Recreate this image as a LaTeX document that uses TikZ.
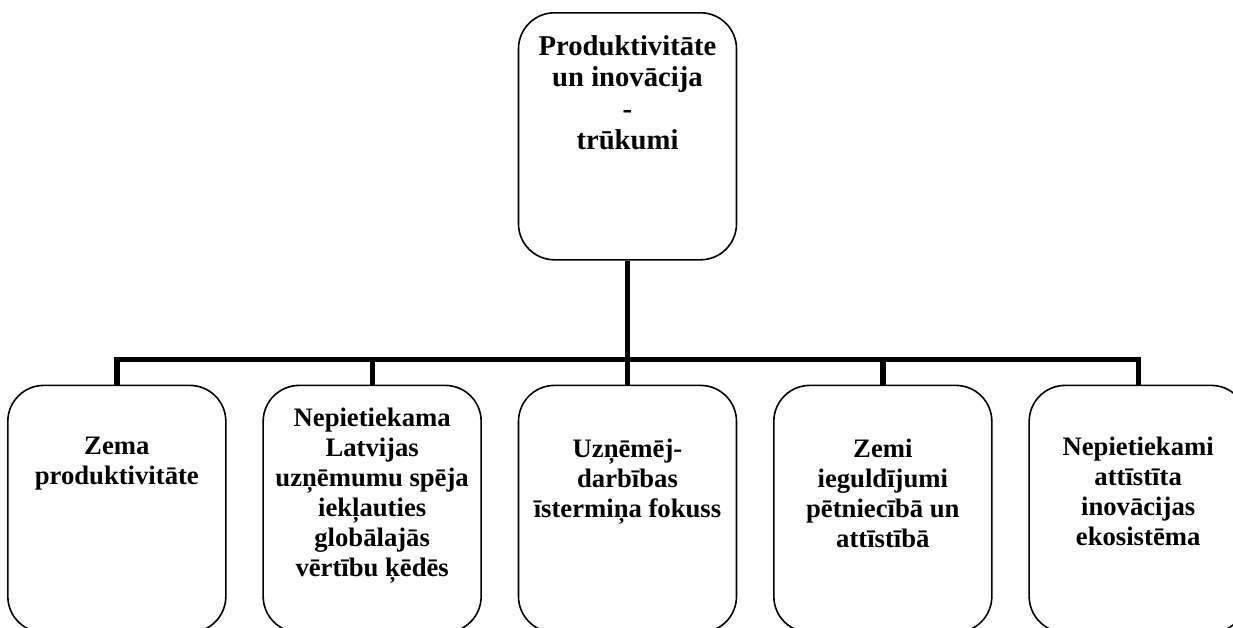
\documentclass[tikz,border=0pt]{standalone}
\usepackage{fontspec}
\setmainfont{Liberation Serif}
\usetikzlibrary{positioning}

\begin{document}
\begin{tikzpicture}[x=0.75pt, y=-0.75pt, node distance=26.8pt,
    box/.style={draw, very thick, rounded corners=27pt, minimum width=163.5pt, minimum height=185.25pt, inner sep=0pt},
    txt/.style={inner sep=0pt, align=center, font=\bfseries\fontsize{20}{22.5}\selectfont},
    bar/.style={line width=4pt}]
\clip (0,0) rectangle (1233,628);
\draw
    node [box, anchor=north] (gaps) at (627.5,12) {}
    node [box, below=93pt of gaps] (fokuss) {}
    node [box, left=of fokuss] (vertiba) {}
    node [box, left=of vertiba] (produkt) {}
    node [box, right=of fokuss] (petnieciba) {}
    node [box, right=of petnieciba] (ekosist) {}
;
\node [txt, font=\bfseries\fontsize{21.5}{23.5}\selectfont, below=17.5pt of gaps.north] (gapsText) {Produktivitāte\\un inovācija\\-\\trūkumi};
\node [txt, below=39pt of produkt.north] (produktText) {Zema\\produktivitāte};
\node [txt, below=17pt of vertiba.north] (vertibaText) {Nepietiekama\\Latvijas\\uzņēmumu spēja\\iekļauties\\globālajās\\vērtību ķēdēs};
\node [txt, below=40.5pt of fokuss.north] (fokussText) {Uzņēmēj-\\darbības\\īstermiņa fokuss};
\node [txt, below=40.5pt of petnieciba.north] (petniecibaText) {Zemi\\ieguldījumi\\pētniecībā un\\attīstībā};
\node [txt, below=39pt of ekosist.north] (ekosistText) {Nepietiekami\\attīstīta\\inovācijas\\ekosistēma};
\coordinate [below=74.25pt of gaps.south] (hub);
\draw[bar] (produkt.north) |- (hub) -| (ekosist.north);
\draw[bar] (gaps.south) -- (fokuss.north);
\draw[bar] (vertiba.north) -- (vertiba.north |- hub);
\draw[bar] (petnieciba.north) -- (petnieciba.north |- hub);
\end{tikzpicture}
\end{document}
